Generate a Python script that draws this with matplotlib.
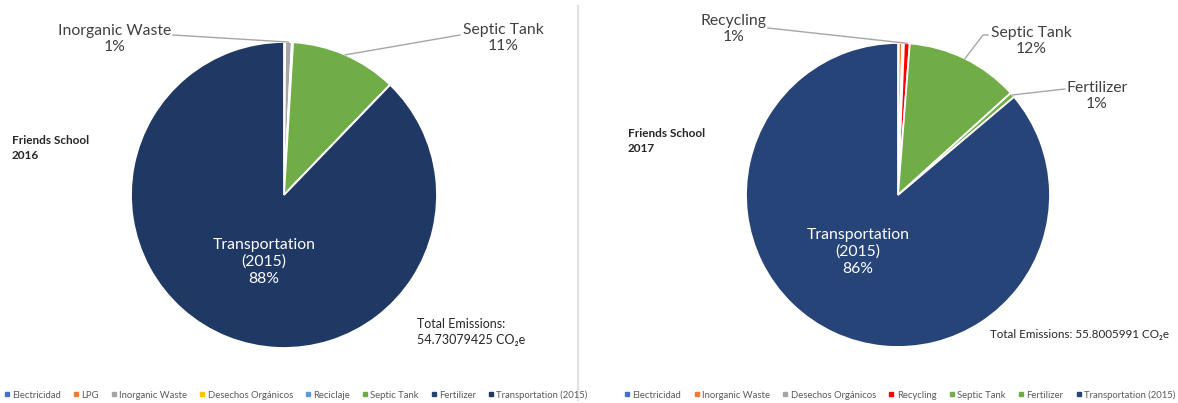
import numpy as np
import matplotlib
matplotlib.use("Agg")
import matplotlib.pyplot as plt
from matplotlib.lines import Line2D

plt.rcParams['font.family'] = ['Lato', 'DejaVu Sans']

# ---- data ----
cats_2016 = ["Electricidad", "LPG", "Inorganic Waste", "Desechos Orgánicos", "Reciclaje",
             "Septic Tank", "Fertilizer", "Transportation (2015)"]
vals_2016 = [0.05, 0.02, 0.38, 0.05, 0.02, 6.15, 0.01, 48.05]
cols_2016 = ["#4472C4", "#ED7D31", "#A5A5A5", "#FFC000", "#5B9BD5", "#70AD47", "#264478", "#203864"]
total_2016 = "54.73079425"

cats_2017 = ["Electricidad", "Inorganic Waste", "Desechos Orgánicos", "Recycling",
             "Septic Tank", "Fertilizer", "Transportation (2015)"]
vals_2017 = [0.05, 0.20, 0.10, 0.34, 6.73, 0.30, 48.08]
cols_2017 = ["#4472C4", "#ED7D31", "#A5A5A5", "#FF0000", "#70AD47", "#70AD47", "#264478"]
total_2017 = "55.8005991"

W, H = 1178, 403
fig = plt.figure(figsize=(W / 100, H / 100), dpi=100)

def fx(x):
    return x / W

def fy(y):
    return 1 - y / H

# divider
fig.add_artist(Line2D([fx(578), fx(578)], [fy(6), fy(400)], color="#E3E3E3", lw=1.6))

LBL = 11.3
LINE_C = "#A6A6A6"

def make_pie(cx, cy, r, cats, vals, cols):
    ax = fig.add_axes([fx(cx - r), fy(cy + r), 2 * r / W, 2 * r / H])
    wedges, _ = ax.pie(vals, colors=cols, startangle=90, counterclock=False,
                       wedgeprops=dict(edgecolor="white", linewidth=1.3))
    ax.set_xlim(-1, 1)
    ax.set_ylim(-1, 1)
    ax.axis("off")
    return ax, wedges

def pct(vals, i):
    return f"{100 * vals[i] / sum(vals):.0f}%"

def mid(w):
    a = np.deg2rad((w.theta1 + w.theta2) / 2)
    return np.cos(a), np.sin(a)

def leader(ax, w, pts):
    x, y = mid(w)
    disp = ax.transData.transform((x, y))
    fpt = fig.transFigure.inverted().transform(disp)
    xs = [fx(p[0]) for p in pts] + [fpt[0]]
    ys = [fy(p[1]) for p in pts] + [fpt[1]]
    fig.add_artist(Line2D(xs, ys, color=LINE_C, lw=1.0))

def label(x, y, text, **kw):
    fig.text(fx(x), fy(y), text, ha="center", va="center", fontsize=LBL,
             color="#404040", linespacing=1.25, **kw)

# ---- left pie (2016) ----
axL, wL = make_pie(284, 195, 153, cats_2016, vals_2016, cols_2016)
i = cats_2016.index("Inorganic Waste")
label(115, 39, f"{cats_2016[i]}\n{pct(vals_2016, i)}")
leader(axL, wL[i], [(173, 35)])
i = cats_2016.index("Septic Tank")
label(503, 38, f"{cats_2016[i]}\n{pct(vals_2016, i)}")
leader(axL, wL[i], [(460, 35)])
i = cats_2016.index("Transportation (2015)")
fig.text(fx(264), fy(262), f"Transportation\n(2015)\n{pct(vals_2016, i)}", ha="center", va="center",
         fontsize=LBL, color="white", linespacing=1.25)
fig.text(fx(12), fy(148), "Friends School\n2016", ha="left", va="center", fontsize=8.5,
         fontweight="bold", color="#262626", linespacing=1.35)
fig.text(fx(417), fy(332), f"Total Emissions:\n{total_2016} CO₂e", ha="left", va="center",
         fontsize=9, color="#262626", linespacing=1.35)

# ---- right pie (2017) ----
axR, wR = make_pie(898, 195, 152, cats_2017, vals_2017, cols_2017)
i = cats_2017.index("Recycling")
label(734, 29, f"{cats_2017[i]}\n{pct(vals_2017, i)}")
leader(axR, wR[i], [(768, 28)])
i = cats_2017.index("Septic Tank")
label(1031, 41, f"{cats_2017[i]}\n{pct(vals_2017, i)}")
leader(axR, wR[i], [(988, 35), (983, 35)])
i = cats_2017.index("Fertilizer")
label(1097, 96, f"{cats_2017[i]}\n{pct(vals_2017, i)}")
leader(axR, wR[i], [(1065, 89)])
i = cats_2017.index("Transportation (2015)")
fig.text(fx(858), fy(252), f"Transportation\n(2015)\n{pct(vals_2017, i)}", ha="center", va="center",
         fontsize=LBL, color="white", linespacing=1.25)
fig.text(fx(628), fy(141), "Friends School\n2017", ha="left", va="center", fontsize=8.5,
         fontweight="bold", color="#262626", linespacing=1.35)
fig.text(fx(990), fy(334), f"Total Emissions: {total_2017} CO₂e", ha="left", va="center",
         fontsize=8.4, color="#262626")

# ---- legends ----
def legend(cats, cols, cx, spacing):
    handles = [Line2D([], [], marker="s", linestyle="none", markersize=3.3, color=c) for c in cols]
    fig.legend(handles, cats, loc="center", bbox_to_anchor=(fx(cx), fy(395)), ncol=len(cats),
               frameon=False, fontsize=6.8, handlelength=0.55, handletextpad=0.3,
               columnspacing=spacing, labelcolor="#595959", borderaxespad=0)

legend(cats_2016, cols_2016, 296, 1.3)
legend(cats_2017, cols_2017, 900, 1.35)

fig.savefig("out.png", dpi=100)
